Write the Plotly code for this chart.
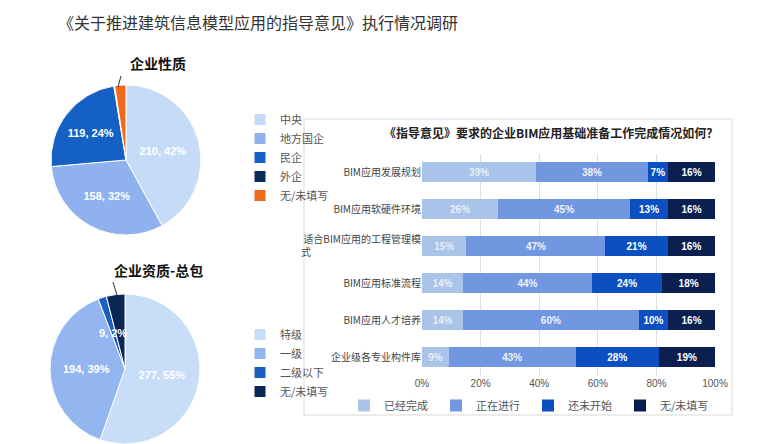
import plotly.graph_objects as go

# ---------------- data ----------------
title_main = "《关于推进建筑信息模型应用的指导意见》执行情况调研"

pie1_title = "企业性质"
pie1_labels = ["中央", "地方国企", "民企", "外企", "无/未填写"]
pie1_values = [210, 158, 119, 1, 12]
pie1_colors = ["#c5dbf7", "#8fb2ef", "#1560c4", "#0b2a5c", "#f06a1e"]

pie2_title = "企业资质-总包"
pie2_labels = ["特级", "一级", "二级以下", "无/未填写"]
pie2_values = [277, 194, 9, 20]
pie2_colors = ["#c8ddf8", "#93b5f0", "#1a5fc0", "#0a2655"]

bar_title = "《指导意见》要求的企业BIM应用基础准备工作完成情况如何？"
bar_categories = ["BIM应用发展规划", "BIM应用软硬件环境", "适合BIM应用的工程管理模式",
                  "BIM应用标准流程", "BIM应用人才培养", "企业级各专业构件库"]
bar_ticktext = ["BIM应用发展规划", "BIM应用软硬件环境", "适合BIM应用的工程管理模<br>式" + "\u3000" * 11,
                "BIM应用标准流程", "BIM应用人才培养", "企业级各专业构件库"]
bar_series = ["已经完成", "正在进行", "还未开始", "无/未填写"]
bar_values = {
    "已经完成": [39, 26, 15, 14, 14, 9],
    "正在进行": [38, 45, 47, 44, 60, 43],
    "还未开始": [7, 13, 21, 24, 10, 28],
    "无/未填写": [16, 16, 16, 18, 16, 19],
}
bar_colors = ["#a9c4e8", "#7097e0", "#0b4fc0", "#0a1f50"]
bar_text_colors = ["#e8eef8", "#eef2fb", "#ffffff", "#ffffff"]
x_ticks = [0, 20, 40, 60, 80, 100]

CJK = "Noto Sans CJK SC"
NUM = "Liberation Sans, Arial, Noto Sans CJK SC"
W, H = 760, 444

fig = go.Figure()

# ---------------- pie 1 ----------------
tt1 = ["%{value}, %{percent:.0%}" if v / sum(pie1_values) > 0.1 else "" for v in pie1_values]
fig.add_trace(go.Pie(
    labels=pie1_labels, values=pie1_values, sort=False, direction="clockwise", rotation=0,
    marker=dict(colors=pie1_colors, line=dict(color="white", width=1)),
    texttemplate=tt1, textposition="inside", insidetextorientation="horizontal",
    textfont=dict(family=NUM, size=11, color="white", weight="bold"),
    domain=dict(x=[51 / W, 201 / W], y=[1 - 235 / H, 1 - 85 / H]),
    hoverinfo="label+value+percent", legend="legend",
))

# ---------------- pie 2 ----------------
pie2_keys = [l + "\u200b" if l in pie1_labels else l for l in pie2_labels]
tt2 = ["%{value}, %{percent:.0%}" if v / sum(pie2_values) > 0.1 else "" for v in pie2_values]
fig.add_trace(go.Pie(
    labels=pie2_keys, values=pie2_values, sort=False, direction="clockwise", rotation=0,
    marker=dict(colors=pie2_colors, line=dict(color="white", width=1)),
    texttemplate=tt2, textposition="inside", insidetextorientation="horizontal",
    textfont=dict(family=NUM, size=11, color="white", weight="bold"),
    domain=dict(x=[50 / W, 200 / W], y=[0, 1 - 294 / H]),
    hoverinfo="label+value+percent", legend="legend2",
))

# ---------------- stacked bar ----------------
for name, col, tcol in zip(bar_series, bar_colors, bar_text_colors):
    vals = bar_values[name]
    fig.add_trace(go.Bar(
        name=name, y=bar_categories, x=vals, orientation="h",
        marker=dict(color=col, line=dict(width=0)),
        text=[f"{v}%" for v in vals], textposition="inside", insidetextanchor="middle",
        textangle=0, constraintext="none",
        textfont=dict(family=NUM, size=10, color=tcol, weight="bold"),
        legend="legend3", xaxis="x", yaxis="y",
    ))

small_idx = 2
small_text = f"{pie2_values[small_idx]}, {round(100 * pie2_values[small_idx] / sum(pie2_values))}%"

fig.update_layout(
    width=W, height=H, margin=dict(l=0, r=0, t=0, b=0, autoexpand=False),
    paper_bgcolor="white", plot_bgcolor="white",
    barmode="stack", barnorm="percent", bargap=0.48,
    font=dict(family=CJK, size=11, color="#444"),
    xaxis=dict(domain=[422 / W, 715 / W], range=[0, 100], tickvals=x_ticks,
               ticktext=[f"{v}%" for v in x_ticks], automargin=False,
               showgrid=True, gridcolor="#dcdfe6", gridwidth=1, zeroline=False,
               tickfont=dict(family=NUM, size=10, color="#555"), ticks="", fixedrange=True),
    yaxis=dict(domain=[1 - 375.5 / H, 1 - 153.5 / H], autorange="reversed", automargin=False,
               tickvals=bar_categories, ticktext=bar_ticktext,
               tickfont=dict(family=CJK, size=10, color="#444"), ticks="", ticklen=0,
               showline=False, fixedrange=True),
    legend=dict(x=240 / W, y=1 - 105 / H, xanchor="left", yanchor="top",
                font=dict(family=CJK, size=11, color="#555"), bgcolor="rgba(0,0,0,0)",
                itemwidth=30),
    legend2=dict(x=240 / W, y=1 - 320 / H, xanchor="left", yanchor="top",
                 font=dict(family=CJK, size=11, color="#555"), bgcolor="rgba(0,0,0,0)",
                 itemwidth=30),
    legend3=dict(orientation="h", x=528 / W, y=1 - 391 / H, xanchor="center", yanchor="top",
                 font=dict(family=CJK, size=11, color="#555"), bgcolor="rgba(0,0,0,0)",
                 itemwidth=30, entrywidth=47, traceorder="normal"),
    shapes=[
        dict(type="rect", xref="paper", yref="paper", x0=304 / W, x1=732 / W,
             y0=1 - 415 / H, y1=1 - 119 / H, line=dict(color="#d9d9d9", width=1), layer="below"),
        dict(type="line", xref="paper", yref="paper", x0=121 / W, y0=1 - 76 / H,
             x1=118 / W, y1=1 - 87 / H, line=dict(color="#333", width=1)),
        dict(type="line", xref="paper", yref="paper", x0=113 / W, y0=1 - 282 / H,
             x1=117 / W, y1=1 - 295 / H, line=dict(color="#333", width=1)),
    ],
    annotations=[
        dict(text=title_main, x=56 / W, y=1 - 22 / H, xref="paper", yref="paper",
             xanchor="left", yanchor="middle", showarrow=False,
             font=dict(family=CJK, size=16, color="#333")),
        dict(text=pie1_title, x=158 / W, y=1 - 63 / H, xref="paper", yref="paper",
             xanchor="center", yanchor="middle", showarrow=False,
             font=dict(family=CJK, size=14, color="#111", weight="bold")),
        dict(text=pie2_title, x=158 / W, y=1 - 270 / H, xref="paper", yref="paper",
             xanchor="center", yanchor="middle", showarrow=False,
             font=dict(family=CJK, size=14, color="#111", weight="bold")),
        dict(text=bar_title, x=551 / W, y=1 - 133 / H, xref="paper", yref="paper",
             xanchor="center", yanchor="middle", showarrow=False,
             font=dict(family=CJK, size=12, color="#222", weight="bold")),
        dict(text=small_text, x=113 / W, y=1 - 333 / H, xref="paper", yref="paper",
             xanchor="center", yanchor="middle", showarrow=False,
             font=dict(family=NUM, size=11, color="white", weight="bold")),
    ],
)

fig.write_html(
    "out.html",
    config={"displayModeBar": False},
    post_script="document.body.style.margin='0';document.body.style.overflow='hidden';",
)
